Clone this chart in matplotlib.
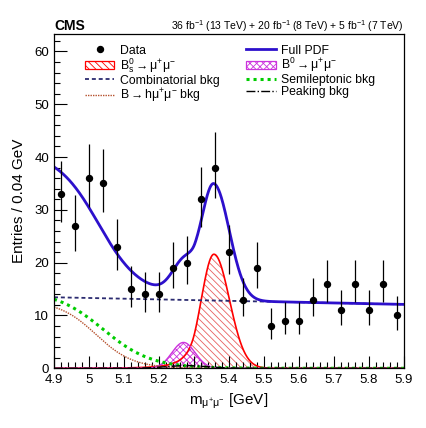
import numpy as np
import matplotlib
matplotlib.use("Agg")
import matplotlib.pyplot as plt
from matplotlib.lines import Line2D
from matplotlib.patches import Patch
from matplotlib.ticker import MultipleLocator

plt.rcParams['font.family'] = ['Liberation Sans', 'DejaVu Sans']
plt.rcParams['mathtext.fontset'] = 'custom'
plt.rcParams['mathtext.rm'] = 'Liberation Sans'
plt.rcParams['mathtext.it'] = 'Liberation Sans:italic'
plt.rcParams['mathtext.bf'] = 'Liberation Sans:bold'
plt.rcParams['hatch.linewidth'] = 0.6

# ---------------- data ----------------
x_min, x_max = 4.9, 5.9
bin_width = 0.04
counts = [33, 27, 36, 35, 23, 15, 14, 14, 19, 20, 32, 38, 22,
          13, 19, 8, 9, 9, 13, 16, 11, 16, 11, 16, 10]

# fitted PDF component parameters
comb_low, comb_high = 13.45, 12.1                 # combinatorial (linear)
semi_amp, semi_x0, semi_w = 14.8, 5.04, 0.069      # semileptonic
bhmm_amp, bhmm_x0, bhmm_w = 12.8, 5.02, 0.053      # B -> h mu mu
bs_amp, bs_mu, bs_sigL, bs_sigR, bs_alpha, bs_n = 21.6, 5.357, 0.036, 0.044, 1.5, 4.0
b0_amp, b0_mu, b0_sig = 4.9, 5.27, 0.033
peak_amp, peak_mu, peak_sig = 0.5, 5.28, 0.06

xtick_labels = ['4.9', '5', '5.1', '5.2', '5.3', '5.4', '5.5', '5.6', '5.7', '5.8', '5.9']
ytick_vals = [0, 10, 20, 30, 40, 50, 60]

# ---------------- model ----------------
x = np.linspace(x_min, x_max, 800)
comb = comb_low + (comb_high - comb_low) * (x - x_min) / (x_max - x_min)
semi = semi_amp / (1 + np.exp((x - semi_x0) / semi_w))
bhmm = bhmm_amp / (1 + np.exp((x - bhmm_x0) / bhmm_w))
t = np.where(x < bs_mu, (x - bs_mu) / bs_sigL, (x - bs_mu) / bs_sigR)
A_cb = (bs_n / bs_alpha) ** bs_n * np.exp(-bs_alpha ** 2 / 2)
B_cb = bs_n / bs_alpha - bs_alpha
bs = np.where(t < -bs_alpha,
              A_cb / np.abs(B_cb - t) ** bs_n,
              np.exp(-t ** 2 / 2)) * bs_amp
b0 = b0_amp * np.exp(-0.5 * ((x - b0_mu) / b0_sig) ** 2)
peak = peak_amp * np.exp(-0.5 * ((x - peak_mu) / peak_sig) ** 2)
full = comb + semi + bhmm + bs + b0 + peak

centers = x_min + bin_width * (np.arange(len(counts)) + 0.5)
n = np.array(counts, dtype=float)
err_lo = np.sqrt(n + 0.25) - 0.5
err_hi = np.sqrt(n + 0.25) + 0.5

# ---------------- figure ----------------
fig = plt.figure(figsize=(4.27, 4.28), dpi=100)
ax = fig.add_axes([54/427, 1-368.3/428, 350/427, 334.3/428])

red = '#ff0000'
mag = '#cc33dd'
blue = '#2d10cc'

ax.fill_between(x, 0, bs, facecolor='none', edgecolor='#e86060', hatch='\\\\\\\\\\', lw=0)
ax.plot(x, bs, color=red, lw=1.2)
ax.fill_between(x, 0, b0, facecolor='none', edgecolor=mag, hatch='xxxxx', lw=0)
ax.plot(x, b0, color=mag, lw=1.0)
ax.plot(x, comb, color='#2b2b70', lw=1.3, ls=(0, (2.2, 1.6)))
ax.plot(x, semi, color='#00cc00', lw=2.2, ls=(0, (1, 1.3)))
ax.plot(x, bhmm, color='#b5502d', lw=1.0, ls=(0, (1, 0.8)))
ax.plot(x, peak, color='black', lw=1.0, ls='-.')
ax.plot(x, full, color=blue, lw=2.0)

ax.errorbar(centers, n, yerr=[err_lo, err_hi], fmt='o', color='black',
            ms=4.3, elinewidth=0.9, capsize=0, zorder=5)

ax.set_xlim(x_min, x_max)
ax.set_ylim(0, 63.3)
ax.set_xticks(np.linspace(x_min, x_max, len(xtick_labels)))
ax.set_xticklabels(xtick_labels)
ax.set_yticks(ytick_vals)
ax.xaxis.set_minor_locator(MultipleLocator(0.02))
ax.yaxis.set_minor_locator(MultipleLocator(2))
ax.tick_params(which='both', direction='in', labelsize=9.5, width=0.8)
ax.tick_params(which='major', length=9)
ax.tick_params(which='minor', length=4.5)
ax.tick_params(axis='x', pad=4)
for s in ax.spines.values():
    s.set_linewidth(0.9)

ax.set_xlabel(r'$\mathrm{m}_{\mathrm{\mu^{+}\mu^{-}}}$ [GeV]', fontsize=11, labelpad=4)
ax.set_ylabel('Entries / 0.04 GeV', fontsize=11, labelpad=6)

fig.text(54/427, 1-30/428, 'CMS', fontsize=10, fontweight='bold', ha='left', va='baseline')
fig.text(404/427, 1-30/428,
         r'36 fb$^{-1}$ (13 TeV) + 20 fb$^{-1}$ (8 TeV) + 5 fb$^{-1}$ (7 TeV)',
         fontsize=7.5, ha='right', va='baseline')

handles = [
    Line2D([], [], marker='o', color='black', ls='none', ms=4.3),
    Patch(facecolor='none', edgecolor=red, hatch='\\\\\\\\\\', lw=0.9),
    Line2D([], [], color='#2b2b70', lw=1.3, ls=(0, (2.2, 1.6))),
    Line2D([], [], color='#b5502d', lw=1.0, ls=(0, (1, 0.8))),
    Line2D([], [], color=blue, lw=2.0),
    Patch(facecolor='none', edgecolor=mag, hatch='xxxxx', lw=0.9),
    Line2D([], [], color='#00cc00', lw=2.2, ls=(0, (1, 1.3))),
    Line2D([], [], color='black', lw=1.0, ls='-.'),
]
labels = [
    'Data',
    r'$\mathrm{B^{0}_{s}} \rightarrow \mathrm{\mu^{+}\mu^{-}}$',
    'Combinatorial bkg',
    r'$\mathrm{B} \rightarrow \mathrm{h\mu^{+}\mu^{-}}$ bkg',
    'Full PDF',
    r'$\mathrm{B^{0}} \rightarrow \mathrm{\mu^{+}\mu^{-}}$',
    'Semileptonic bkg',
    'Peaking bkg',
]
leg = fig.legend(handles, labels, ncol=2, loc='upper left',
                 bbox_to_anchor=(85/427, 1-44.5/428), frameon=False,
                 fontsize=8.8, handlelength=2.4, handletextpad=0.45,
                 columnspacing=2.2, labelspacing=-0.02, borderpad=0, borderaxespad=0,
                 handleheight=0.7)

fig.savefig('out.png', dpi=100)
